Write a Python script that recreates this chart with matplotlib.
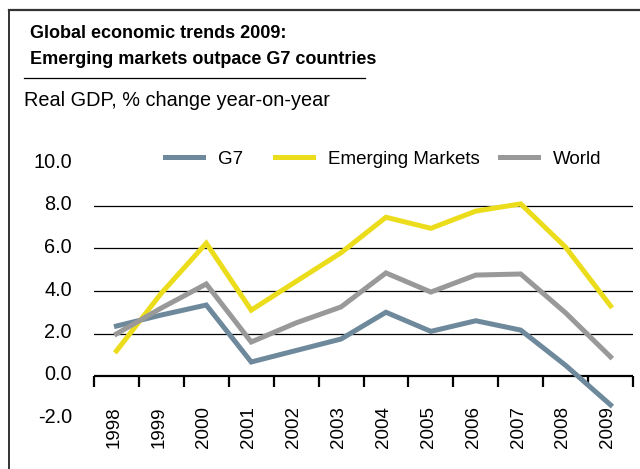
import matplotlib
matplotlib.use("Agg")
import matplotlib.pyplot as plt
import matplotlib.transforms as mtransforms
from matplotlib.lines import Line2D
import numpy as np

plt.rcParams['font.family'] = ['Liberation Sans', 'DejaVu Sans']

years = ["1998", "1999", "2000", "2001", "2002", "2003",
         "2004", "2005", "2006", "2007", "2008", "2009"]
g7 = [2.35, 2.87, 3.34, 0.66, 1.2, 1.74, 3.0, 2.1, 2.6, 2.16, 0.5, -1.36]
emerging = [1.18, 3.9, 6.25, 3.1, 4.45, 5.8, 7.47, 6.95, 7.76, 8.1, 6.06, 3.3]
world = [1.98, 3.2, 4.33, 1.6, 2.5, 3.25, 4.85, 3.95, 4.75, 4.8, 2.97, 0.9]
y_ticks = [-2.0, 0.0, 2.0, 4.0, 6.0, 8.0, 10.0]
grid_levels = [2.0, 4.0, 6.0, 8.0]

W, H = 640, 469
fig = plt.figure(figsize=(W / 100, H / 100), dpi=100)

# outer frame (open to the right and bottom)
fig.add_artist(Line2D([9 / W, 1.0], [1 - 10 / H, 1 - 10 / H], color="#333333", lw=1.6))
fig.add_artist(Line2D([9 / W, 9 / W], [1 - 10 / H, 0.0], color="#333333", lw=1.4))

# titles
fig.text(30 / W, 1 - 34 / H, "Global economic trends 2009:", fontsize=13,
         fontweight="bold", va="center", ha="left")
fig.text(30 / W, 1 - 60 / H, "Emerging markets outpace G7 countries", fontsize=13,
         fontweight="bold", va="center", ha="left")
fig.add_artist(Line2D([24 / W, 365 / W], [1 - 78 / H, 1 - 78 / H], color="black", lw=0.9))
fig.text(24 / W, 1 - 100 / H, "Real GDP, % change year-on-year", fontsize=14.3,
         va="center", ha="left")

# plot area: y=0 at 376 px, 21.25 px per unit
ymin, ymax = -2.5, 10.5
ppu = 21.25
top_px = 376 - ppu * ymax
bot_px = 376 - ppu * ymin
ax = fig.add_axes([94 / W, 1 - bot_px / H, (633 - 94) / W, (bot_px - top_px) / H])
ax.set_ylim(ymin, ymax)
ax.set_xlim(-0.5, len(years) - 0.5)
ax.patch.set_alpha(0)
for s in ax.spines.values():
    s.set_visible(False)

x = np.arange(len(years))
for lvl in grid_levels:
    ax.axhline(lvl, color="black", lw=0.9, zorder=1)
ax.axhline(0, color="black", lw=1.6, zorder=1)

l_g7, = ax.plot(x, g7, color="#6e899b", lw=3.6, zorder=3, solid_joinstyle="miter")
l_em, = ax.plot(x, emerging, color="#ecdd1c", lw=3.6, zorder=3, solid_joinstyle="miter")
l_w, = ax.plot(x, world, color="#999999", lw=3.6, zorder=3, solid_joinstyle="miter")

# category boundary tick marks hanging from the zero line
for b in np.arange(-0.5, len(years), 1.0):
    ax.plot([b, b], [0, -11 / ppu], color="black", lw=1.6, zorder=2, clip_on=False,
            solid_capstyle="butt")

# year labels below the hanging ticks
ax.set_xticks([])
for xi, yr in zip(x, years):
    ax.text(xi - 0.06, -30 / ppu, yr, rotation=90, ha="center", va="top", fontsize=13.5,
            clip_on=False)

ax.set_yticks(y_ticks)
ax.set_yticklabels([f"{v:.1f}" for v in y_ticks], fontsize=14.3)
ax.tick_params(axis="y", length=0, pad=16)
shift = mtransforms.ScaledTranslation(0, 3 / 100, fig.dpi_scale_trans)
for lbl in ax.get_yticklabels():
    lbl.set_transform(lbl.get_transform() + shift)

# legend entries, one per series, laid out along the top
entries = [(l_g7, "G7", 165), (l_em, "Emerging Markets", 275), (l_w, "World", 500)]
for handle, text, px in entries:
    fig.legend([handle], [text], loc="center left",
               bbox_to_anchor=(px / W, 1 - 159 / H), bbox_transform=fig.transFigure,
               frameon=False, fontsize=13.5, handlelength=2.05, handletextpad=0.78,
               borderpad=0, borderaxespad=0)

fig.savefig("out.png", dpi=100)
